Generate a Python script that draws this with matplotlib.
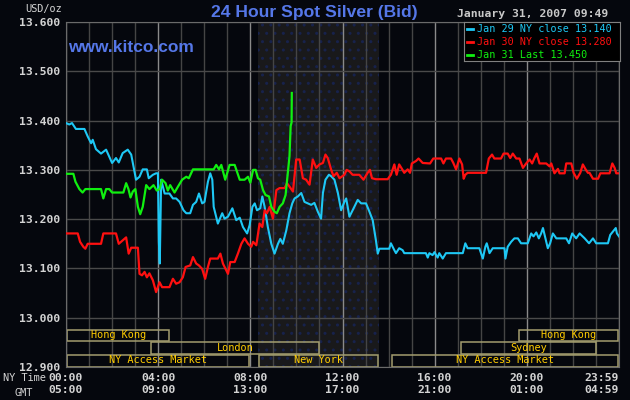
import matplotlib.pyplot as plt
from matplotlib.patches import Rectangle

# hours after 00:00 NY time, price in USD/oz
jan29_t = [0, 0.145, 0.26, 0.43, 0.80, 0.94, 1.09, 1.16, 1.30, 1.52, 1.74, 2.00, 2.17, 2.29, 2.46, 2.68,
           2.83, 2.97, 3.04, 3.19, 3.33, 3.51, 3.59, 3.77, 3.91, 3.99, 4.03, 4.07, 4.13, 4.28, 4.49,
           4.64, 4.78, 4.93, 5.10, 5.22, 5.39, 5.51, 5.65, 5.77, 5.91, 6.01, 6.16, 6.26, 6.35, 6.41,
           6.59, 6.78, 6.88, 7.03, 7.22, 7.39, 7.54, 7.68, 7.86, 7.97, 8.09, 8.19, 8.29, 8.43, 8.52,
           8.62, 8.76, 8.91, 9.05, 9.20, 9.30, 9.41, 9.56, 9.70, 9.82, 9.92, 10.06, 10.21, 10.35,
           10.50, 10.64, 10.78, 10.93, 11.07, 11.15, 11.26, 11.41, 11.51, 11.65, 11.80, 11.94,
           12.08, 12.16, 12.30, 12.44, 12.66, 12.81, 13.02, 13.17, 13.31, 13.45, 13.53, 13.60,
           14.03, 14.10, 14.25, 14.32, 14.46, 14.61, 14.68, 15.62, 15.70, 15.77, 15.91, 15.99,
           16.13, 16.20, 16.35, 16.49, 17.22, 17.33, 17.43, 17.94, 18.09, 18.20, 18.26, 18.38,
           18.52, 19.03, 19.07, 19.17, 19.32, 19.46, 19.61, 19.75, 20.04, 20.19, 20.29, 20.41,
           20.52, 20.62, 20.70, 20.81, 20.91, 21.01, 21.13, 21.28, 21.71, 21.83, 21.97, 22.14,
           22.29, 22.51, 22.70, 22.87, 23.01, 23.52, 23.62, 23.74, 23.86, 23.91, 24.00]
jan29_p = [13.395, 13.392, 13.395, 13.383, 13.383, 13.368, 13.354, 13.361, 13.342, 13.333, 13.341,
           13.314, 13.324, 13.315, 13.334, 13.341, 13.331, 13.297, 13.280, 13.286, 13.301, 13.301,
           13.283, 13.290, 13.293, 13.293, 13.154, 13.110, 13.280, 13.252, 13.252, 13.242, 13.242,
           13.235, 13.218, 13.212, 13.212, 13.229, 13.235, 13.252, 13.232, 13.235, 13.276, 13.293,
           13.280, 13.225, 13.191, 13.212, 13.201, 13.205, 13.222, 13.198, 13.203, 13.184, 13.171,
           13.188, 13.225, 13.232, 13.218, 13.222, 13.246, 13.225, 13.184, 13.150, 13.130, 13.150,
           13.160, 13.150, 13.177, 13.212, 13.232, 13.242, 13.246, 13.253, 13.235, 13.232, 13.229,
           13.233, 13.215, 13.201, 13.253, 13.280, 13.290, 13.287, 13.280, 13.253, 13.218, 13.235,
           13.242, 13.205, 13.218, 13.239, 13.232, 13.232, 13.215, 13.198, 13.157, 13.130, 13.140,
           13.140, 13.151, 13.137, 13.131, 13.141, 13.137, 13.131, 13.131, 13.122, 13.131, 13.127,
           13.133, 13.122, 13.131, 13.120, 13.131, 13.131, 13.151, 13.141, 13.141, 13.120, 13.144,
           13.151, 13.131, 13.141, 13.141, 13.120, 13.144, 13.154, 13.161, 13.161, 13.151, 13.151,
           13.171, 13.165, 13.173, 13.161, 13.171, 13.182, 13.161, 13.141, 13.151, 13.171, 13.161,
           13.161, 13.151, 13.171, 13.161, 13.171, 13.161, 13.151, 13.161, 13.151, 13.151, 13.168,
           13.175, 13.182, 13.171, 13.165]

jan30_t = [0, 0.51, 0.61, 0.75, 0.84, 0.94, 1.52, 1.62, 2.17, 2.29, 2.46, 2.61, 2.72, 2.83, 3.12,
           3.19, 3.30, 3.41, 3.51, 3.62, 3.77, 3.91, 4.06, 4.17, 4.49, 4.64, 4.78, 4.93, 5.07, 5.19,
           5.39, 5.51, 5.65, 5.77, 5.91, 6.04, 6.16, 6.26, 6.59, 6.70, 6.81, 7.03, 7.13, 7.32, 7.46,
           7.61, 7.75, 7.90, 8.04, 8.12, 8.26, 8.40, 8.52, 8.62, 8.72, 8.84, 8.98, 9.13, 9.27, 9.49,
           9.59, 9.70, 9.85, 9.99, 10.14, 10.28, 10.42, 10.57, 10.71, 10.86, 11.00, 11.15, 11.26,
           11.36, 11.51, 11.61, 11.75, 11.87, 12.08, 12.18, 12.30, 12.44, 12.73, 12.91, 13.09,
           13.19, 13.28, 13.45, 13.96, 14.10, 14.25, 14.35, 14.46, 14.58, 14.68, 14.83, 14.93,
           15.01, 15.19, 15.30, 15.48, 15.80, 15.94, 16.28, 16.38, 16.49, 16.71, 16.81, 16.93,
           17.07, 17.19, 17.26, 17.33, 17.43, 18.23, 18.35, 18.49, 18.59, 18.88, 18.99, 19.17,
           19.28, 19.39, 19.54, 19.68, 19.83, 19.97, 20.12, 20.23, 20.33, 20.43, 20.55, 20.84,
           20.99, 21.06, 21.20, 21.35, 21.42, 21.64, 21.71, 21.93, 22.03, 22.17, 22.32, 22.43,
           22.55, 22.65, 22.72, 22.87, 23.09, 23.19, 23.59, 23.71, 23.81, 23.88, 24.00]
jan30_p = [13.171, 13.171, 13.154, 13.144, 13.140, 13.150, 13.150, 13.171, 13.171, 13.150, 13.157,
           13.163, 13.130, 13.142, 13.142, 13.089, 13.086, 13.093, 13.082, 13.090, 13.076, 13.052,
           13.072, 13.062, 13.062, 13.079, 13.069, 13.072, 13.082, 13.103, 13.106, 13.123, 13.110,
           13.106, 13.099, 13.079, 13.103, 13.120, 13.120, 13.130, 13.110, 13.089, 13.113, 13.113,
           13.130, 13.150, 13.161, 13.150, 13.144, 13.154, 13.147, 13.191, 13.184, 13.218, 13.212,
           13.225, 13.201, 13.259, 13.263, 13.263, 13.273, 13.266, 13.256, 13.321, 13.321, 13.283,
           13.280, 13.270, 13.321, 13.304, 13.311, 13.314, 13.331, 13.324, 13.300, 13.287, 13.294,
           13.283, 13.290, 13.300, 13.297, 13.290, 13.290, 13.280, 13.294, 13.300, 13.283, 13.281,
           13.281, 13.290, 13.311, 13.290, 13.311, 13.302, 13.294, 13.301, 13.294, 13.313, 13.318,
           13.323, 13.314, 13.313, 13.323, 13.323, 13.313, 13.323, 13.323, 13.314, 13.301, 13.323,
           13.311, 13.282, 13.290, 13.294, 13.294, 13.323, 13.331, 13.323, 13.323, 13.333, 13.333,
           13.324, 13.333, 13.323, 13.323, 13.304, 13.313, 13.321, 13.313, 13.324, 13.333, 13.313,
           13.313, 13.307, 13.313, 13.293, 13.302, 13.293, 13.293, 13.313, 13.313, 13.294, 13.282,
           13.294, 13.311, 13.301, 13.294, 13.294, 13.282, 13.282, 13.293, 13.293, 13.313, 13.304,
           13.293, 13.293]

jan31_t = [0, 0.32, 0.41, 0.58, 0.72, 0.84, 1.52, 1.62, 1.74, 1.88, 2.00, 2.49, 2.61, 2.71, 2.80,
           2.90, 3.01, 3.12, 3.22, 3.33, 3.48, 3.62, 3.80, 3.94, 4.06, 4.17, 4.32, 4.42, 4.52, 4.71,
           4.86, 5.04, 5.22, 5.33, 5.51, 6.41, 6.52, 6.64, 6.74, 6.91, 7.10, 7.32, 7.54, 7.75, 7.90,
           8.00, 8.12, 8.23, 8.33, 8.43, 8.55, 8.66, 8.81, 8.91, 9.05, 9.15, 9.27, 9.41, 9.53, 9.67,
           9.70, 9.75, 9.79, 9.80]
jan31_p = [13.292, 13.292, 13.276, 13.261, 13.254, 13.261, 13.261, 13.242, 13.261, 13.261, 13.254,
           13.254, 13.273, 13.261, 13.244, 13.256, 13.261, 13.225, 13.210, 13.225, 13.269, 13.261,
           13.269, 13.258, 13.261, 13.280, 13.273, 13.258, 13.269, 13.254, 13.266, 13.280, 13.286,
           13.283, 13.301, 13.301, 13.310, 13.301, 13.310, 13.280, 13.310, 13.310, 13.280, 13.280,
           13.286, 13.274, 13.300, 13.300, 13.283, 13.280, 13.259, 13.249, 13.246, 13.225, 13.215,
           13.212, 13.225, 13.232, 13.249, 13.314, 13.328, 13.389, 13.396, 13.456]

y_ticks = [12.9, 13.0, 13.1, 13.2, 13.3, 13.4, 13.5, 13.6]
x_ticks = [0, 4, 8, 12, 16, 20, 24]
ny_labels = ["00:00", "04:00", "08:00", "12:00", "16:00", "20:00", "23:59"]
gmt_labels = ["05:00", "09:00", "13:00", "17:00", "21:00", "01:00", "04:59"]

# trading sessions: name, start hour, end hour, row (0 = top)
sessions = [("Hong Kong", 0, 4.52, 0), ("Hong Kong", 19.6, 24, 0),
            ("London", 3.65, 11.0, 1), ("Sydney", 17.1, 23.05, 1),
            ("NY Access Market", 0, 8.0, 2), ("New York", 8.35, 13.58, 2),
            ("NY Access Market", 14.1, 24, 2)]
comex_start, comex_end = 8.35, 13.58

legend_text = ["Jan 29 NY close 13.140", "Jan 30 NY close 13.280", "Jan 31 Last 13.450"]

BG = "#05070d"
BLUE = "#1ec8f5"
RED = "#ff1010"
GREEN = "#10f010"
mono = "DejaVu Sans Mono"

fig = plt.figure(figsize=(6.3, 4), dpi=100, facecolor=BG)
ax = fig.add_axes([66/630, 1 - 367/400, (619 - 66)/630, (367 - 22)/400])
ax.set_facecolor(BG)
ax.set_xlim(0, 24)
ax.set_ylim(12.9, 13.6)

# shaded comex hours
ax.axvspan(comex_start, comex_end, facecolor="#19191b", edgecolor="#17224c",
           hatch="..", linewidth=0, zorder=0)

for h in range(25):
    ax.axvline(h, color="#8a8a8a" if h % 4 == 0 else "#454545", lw=1.0, zorder=1)
for v in y_ticks:
    ax.axhline(v, color="#4a4a4a", lw=1.0, zorder=1)

for s in ax.spines.values():
    s.set_color("#6a6a6a")

# session boxes
row_h = 0.0255
for name, a, b, row in sessions:
    y0 = 12.9 + (2 - row) * row_h + 0.001
    ax.add_patch(Rectangle((a + 0.04, y0), b - a - 0.08, row_h - 0.002, fill=False,
                           edgecolor="#a39d6e", lw=1.1, zorder=2))
    ax.text((a + b) / 2, y0 + row_h / 2 - 0.0005, name, color="#ffcc00", fontsize=7.4,
            family=mono, ha="center", va="center", zorder=3)

ax.plot(jan29_t, jan29_p, color=BLUE, lw=1.5, zorder=4)
ax.plot(jan30_t, jan30_p, color=RED, lw=1.6, zorder=5)
ax.plot(jan31_t, jan31_p, color=GREEN, lw=1.6, zorder=6)

ax.set_yticks(y_ticks)
ax.set_yticklabels(["%.3f" % v for v in y_ticks], family=mono, fontsize=8.2,
                   fontweight="bold", color="#d4d4d4")
ax.set_xticks(x_ticks)
ax.set_xticklabels([a + "\n" + b for a, b in zip(ny_labels, gmt_labels)], family=mono,
                   fontsize=8.2, fontweight="bold", color="#d4d4d4", linespacing=1.35)
ax.get_xticklabels()[-1].set_ha("right")
ax.tick_params(length=0, pad=4)

fig.text(62/630, 1 - 9/400, "USD/oz", family=mono, fontsize=7.4, color="#d4d4d4",
         ha="right", va="center")
fig.text(24/630, 1 - 378/400, "NY Time", family=mono, fontsize=7.4, color="#d4d4d4",
         ha="center", va="center")
fig.text(24/630, 1 - 393/400, "GMT", family=mono, fontsize=7.4, color="#d4d4d4",
         ha="center", va="center")

fig.text(314/630, 1 - 12/400, "24 Hour Spot Silver (Bid)", family="Liberation Sans",
         fontsize=12.6, fontweight="bold", color="#5577e8", ha="center", va="center")
fig.text(68/630, 1 - 48/400, "www.kitco.com", family="Liberation Sans", fontsize=12.5,
         fontweight="bold", color="#5577e8", ha="left", va="center")
fig.text(608/630, 1 - 14/400, "January 31, 2007 09:49", family=mono, fontsize=8.2,
         fontweight="bold", color="#c8c8c8", ha="right", va="center")

# legend box
leg_ax = fig.add_axes([464/630, 1 - 61/400, (620 - 464)/630, (61 - 22)/400])
leg_ax.set_facecolor("#000000")
leg_ax.set_xticks([])
leg_ax.set_yticks([])
for s in leg_ax.spines.values():
    s.set_color("#808080")
for i, (txt, c) in enumerate(zip(legend_text, [BLUE, RED, GREEN])):
    yy = 1 - (i + 0.55) / 3.05
    leg_ax.plot([0.02, 0.055], [yy, yy], color=c, lw=2)
    leg_ax.text(0.085, yy, txt, color=c, family=mono, fontsize=7.3, va="center", ha="left")
leg_ax.set_xlim(0, 1)
leg_ax.set_ylim(0, 1)

fig.savefig("out.png", dpi=100, facecolor=BG)
